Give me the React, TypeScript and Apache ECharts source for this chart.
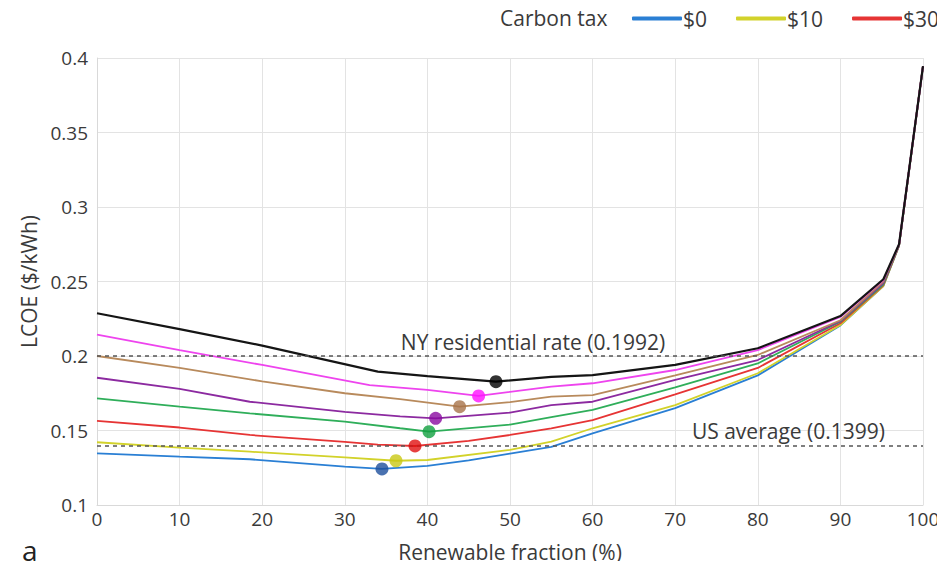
import React, { useEffect, useRef } from "react";
import * as echarts from "echarts";

const seriesNames = ["$0", "$10", "$30", "$50", "$70", "$90", "$110", "$130"];
const legendNames = ["$0", "$10", "$30"];

const tax0 = [[0,0.1347],[10,0.1324],[18.5,0.1307],[30,0.1258],[34.5,0.1242],[40,0.1262],[45,0.1300],[50,0.1345],[55,0.1390],[60,0.1480],[70,0.1650],[80,0.1870],[90,0.2205],[95.2,0.2470],[97.1,0.2740],[100,0.3946]];
const tax10 = [[0,0.1421],[10,0.1385],[18.5,0.1358],[30,0.1319],[36.2,0.1297],[40,0.1302],[50,0.1370],[55,0.1425],[60,0.1515],[70,0.1670],[80,0.1884],[90,0.2208],[95.2,0.2470],[97.1,0.2740],[100,0.3946]];
const tax30 = [[0,0.1564],[10,0.1520],[18.5,0.1470],[30,0.1423],[34,0.1405],[38.5,0.1396],[45,0.1430],[50,0.1470],[55,0.1515],[60,0.1570],[70,0.1743],[80,0.1920],[90,0.2220],[95.2,0.2475],[97.1,0.2742],[100,0.3946]];
const tax50 = [[0,0.1716],[10,0.1660],[18.5,0.1615],[30,0.1560],[36.7,0.1515],[40.2,0.1492],[50,0.1540],[55,0.1590],[60,0.1638],[70,0.1790],[80,0.1950],[90,0.2230],[95.2,0.2480],[97.1,0.2742],[100,0.3946]];
const tax70 = [[0,0.1854],[10,0.1780],[18.5,0.1693],[30,0.1625],[36.7,0.1595],[41,0.1582],[50,0.1620],[55,0.1670],[60,0.1693],[70,0.1840],[80,0.1973],[90,0.2235],[95.2,0.2490],[97.1,0.2744],[100,0.3946]];
const tax90 = [[0,0.2000],[10,0.1920],[20,0.1830],[30,0.1750],[36.7,0.1710],[43.9,0.1660],[50,0.1690],[55,0.1727],[60,0.1738],[70,0.1870],[80,0.2007],[90,0.2240],[95.2,0.2500],[97.1,0.2745],[100,0.3946]];
const tax110 = [[0,0.2143],[10,0.2040],[20,0.1940],[33,0.1805],[40,0.1772],[46.2,0.1732],[55,0.1794],[60,0.1817],[70,0.1906],[80,0.2040],[90,0.2262],[95.2,0.2510],[97.1,0.2748],[100,0.3946]];
const tax130 = [[0,0.2287],[10,0.2180],[20,0.2070],[34,0.1895],[40,0.1865],[48.3,0.1828],[55,0.1860],[60,0.1872],[70,0.1940],[80,0.2052],[90,0.2268],[95.2,0.2515],[97.1,0.2750],[100,0.3946]];

const allData = [tax0, tax10, tax30, tax50, tax70, tax90, tax110, tax130];

const refLines = [
  { name: "NY residential rate (0.1992)", value: 0.1992 },
  { name: "US average (0.1399)", value: 0.1399 },
];

const xTicks = { min: 0, max: 100, interval: 10 };
const yTicks = { min: 0.1, max: 0.4, interval: 0.05 };

const lineColors = ["#2a7fd4", "#d2d22a", "#e63434", "#2fae5a", "#8c2aa0", "#b88a5c", "#ee44ee", "#151515"];
const dotColors = ["#1d4f9c", "#c9c814", "#e01010", "#12a040", "#8a0aa0", "#a8734a", "#ff10ff", "#000000"];

const FONT = "'Open Sans', sans-serif";
const TXT = "#3a3a3a";

export default function App() {
  const ref = useRef<HTMLDivElement>(null);
  useEffect(() => {
    if (!ref.current) return;
    const chart = echarts.init(ref.current, null, { renderer: "svg" });

    const lineSeries: any[] = allData.map((d, i) => ({
      name: seriesNames[i],
      type: "line",
      data: d,
      symbol: "none",
      smooth: false,
      z: 2 + i * 0.01,
      lineStyle: { width: i === 7 ? 2.2 : 1.8, color: lineColors[i] },
      itemStyle: { color: lineColors[i] },
    }));

    lineSeries[0].markLine = {
      silent: true,
      symbol: ["none", "none"],
      lineStyle: { type: [4, 4], color: "#555", width: 1.5 },
      data: [
        {
          yAxis: refLines[0].value,
          label: {
            show: true,
            formatter: refLines[0].name,
            position: "insideMiddleTop",
            offset: [23, 0],
            distance: 4,
            color: TXT,
            fontSize: 21,
            fontFamily: FONT,
          },
        },
        {
          yAxis: refLines[1].value,
          label: {
            show: true,
            formatter: refLines[1].name,
            position: "insideEndTop",
            distance: [38, 4],
            color: TXT,
            fontSize: 21,
            fontFamily: FONT,
          },
        },
      ],
    };

    const minima = allData.map((d, i) => {
      let best = d[0];
      d.forEach((p) => { if (p[1] < best[1]) best = p; });
      return { value: best, itemStyle: { color: dotColors[i] } };
    });

    const option: any = {
      animation: false,
      backgroundColor: "#ffffff",
      textStyle: { fontFamily: FONT },
      grid: { left: 97, right: 22, top: 58, bottom: 64, containLabel: false },
      legend: {
        data: legendNames,
        left: 632,
        top: 8,
        width: 320,
        padding: 0,
        icon: "roundRect",
        itemWidth: 50,
        itemHeight: 4,
        itemGap: 29,
        textStyle: { fontSize: 21, color: TXT, fontFamily: FONT, padding: [0, 0, 0, -4] },
      },
      graphic: [
        {
          type: "text",
          left: 500,
          top: 7,
          style: { text: "Carbon tax", fontSize: 21, fill: TXT, fontFamily: FONT },
        },
        {
          type: "text",
          left: 22,
          top: 536,
          style: { text: "a", fontSize: 28, fill: "#222", fontFamily: FONT },
        },
      ],
      xAxis: {
        type: "value",
        min: xTicks.min,
        max: xTicks.max,
        interval: xTicks.interval,
        name: "Renewable fraction (%)",
        nameLocation: "middle",
        nameGap: 36,
        nameTextStyle: { fontSize: 21, color: TXT, fontFamily: FONT },
        axisLine: { show: true, lineStyle: { color: "#d9d9d9" } },
        axisTick: { show: false },
        axisLabel: { fontSize: 19, color: TXT, margin: 4, fontFamily: FONT },
        splitLine: { show: true, lineStyle: { color: "#e3e3e3" } },
      },
      yAxis: {
        type: "value",
        min: yTicks.min,
        max: yTicks.max,
        interval: yTicks.interval,
        name: "LCOE ($/kWh)",
        nameLocation: "middle",
        nameGap: 57,
        nameTextStyle: { fontSize: 21, color: TXT, fontFamily: FONT },
        axisLine: { show: true, lineStyle: { color: "#d9d9d9" } },
        axisTick: { show: false },
        axisLabel: {
          fontSize: 19,
          color: TXT,
          margin: 9,
          fontFamily: FONT,
          formatter: (v: number) => String(+v.toFixed(2)),
        },
        splitLine: { show: true, lineStyle: { color: "#e3e3e3" } },
      },
      series: [
        ...lineSeries,
        {
          name: "minimum",
          type: "scatter",
          data: minima,
          symbol: "circle",
          symbolSize: 13,
          z: 5,
        },
      ],
    };
    chart.setOption(option);
    return () => chart.dispose();
  }, []);
  return <div ref={ref} style={{ width: 945, height: 569, margin: -8 }} />;
}
